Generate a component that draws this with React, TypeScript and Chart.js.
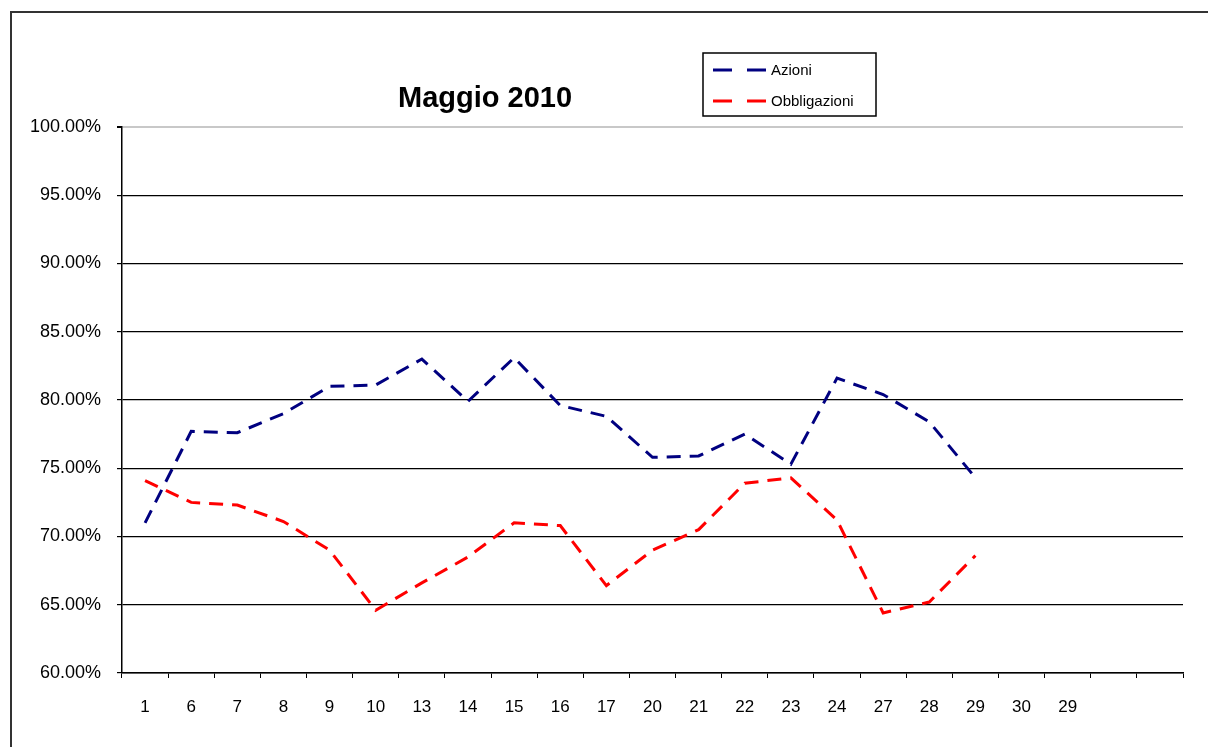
import React, { useEffect, useRef } from "react";
import { Chart, registerables } from "chart.js";

Chart.register(...registerables);

const categories = ["1", "6", "7", "8", "9", "10", "13", "14", "15", "16", "17", "20", "21", "22", "23", "24", "27", "28", "29", "30", "29", "", ""];
const azioni = [71.0, 77.7, 77.6, 79.0, 81.0, 81.1, 83.0, 79.9, 83.1, 79.6, 78.8, 75.8, 75.9, 77.5, 75.3, 81.6, 80.4, 78.4, 74.3, null, null, null, null];
const obbligazioni = [74.1, 72.5, 72.3, 71.1, 69.0, 64.6, 66.6, 68.5, 71.0, 70.8, 66.4, 69.0, 70.5, 73.9, 74.3, 71.2, 64.4, 65.2, 68.6, null, null, null, null];
const seriesNames = ["Azioni", "Obbligazioni"];
const seriesColors = ["#000080", "#ff0000"];
const titleText = "Maggio 2010";

const decorPlugin = {
  id: "decor",
  beforeDraw(chart: any) {
    const ctx = chart.ctx;
    ctx.save();
    ctx.fillStyle = "#ffffff";
    ctx.fillRect(0, 0, chart.width, chart.height);
    ctx.restore();
  },
  afterDraw(chart: any) {
    const ctx = chart.ctx;
    ctx.save();
    // outer frame
    ctx.strokeStyle = "#333333";
    ctx.lineWidth = 2;
    ctx.strokeRect(11, 12, chart.width + 20, chart.height + 20);
    // title
    ctx.fillStyle = "#000";
    ctx.font = "bold 29px 'Liberation Sans', Arial, sans-serif";
    ctx.textAlign = "center";
    ctx.textBaseline = "alphabetic";
    ctx.fillText(titleText, 485, 107);
    // legend box
    ctx.strokeStyle = "#000";
    ctx.lineWidth = 1.5;
    ctx.strokeRect(703, 53, 173, 63);
    ctx.font = "15px 'Liberation Sans', Arial, sans-serif";
    ctx.textAlign = "left";
    ctx.textBaseline = "middle";
    const ys = [70, 101];
    seriesNames.forEach((name, i) => {
      ctx.strokeStyle = seriesColors[i];
      ctx.lineWidth = 3;
      ctx.setLineDash([19, 15]);
      ctx.beginPath();
      ctx.moveTo(713, ys[i]);
      ctx.lineTo(767, ys[i]);
      ctx.stroke();
      ctx.setLineDash([]);
      ctx.fillStyle = "#000";
      ctx.fillText(name, 771, ys[i] + 1);
    });
    ctx.restore();
  },
};

export default function App() {
  const ref = useRef<HTMLCanvasElement>(null);
  useEffect(() => {
    if (!ref.current) return;
    const chart = new Chart(ref.current, {
      type: "line",
      data: {
        labels: categories,
        datasets: [
          {
            label: seriesNames[0],
            data: azioni,
            borderColor: seriesColors[0],
            backgroundColor: seriesColors[0],
            borderWidth: 3,
            borderDash: [14, 9],
            pointRadius: 0,
            tension: 0,
            fill: false,
          },
          {
            label: seriesNames[1],
            data: obbligazioni,
            borderColor: seriesColors[1],
            backgroundColor: seriesColors[1],
            borderWidth: 3,
            borderDash: [14, 9],
            pointRadius: 0,
            tension: 0,
            fill: false,
          },
        ],
      },
      options: {
        responsive: false,
        animation: false,
        layout: { padding: { top: 127, right: 25, left: 0, bottom: 0 } },
        plugins: {
          legend: { display: false },
          title: { display: false },
          tooltip: { enabled: false },
        },
        scales: {
          x: {
            type: "category",
            offset: true,
            grid: {
              offset: true,
              drawOnChartArea: false,
              drawTicks: true,
              tickLength: 5,
              color: "#000",
              tickColor: "#000",
            },
            border: { display: true, color: "#000", width: 1.5 },
            ticks: {
              autoSkip: false,
              maxRotation: 0,
              padding: 19,
              color: "#000",
              font: { family: "'Liberation Sans', Arial, sans-serif", size: 17 },
            },
            afterFit(scale: any) {
              scale.height = 74;
            },
          },
          y: {
            min: 60,
            max: 100,
            ticks: {
              stepSize: 5,
              padding: 16,
              color: "#000",
              font: { family: "'Liberation Sans', Arial, sans-serif", size: 18 },
              callback: (v: any) => Number(v).toFixed(2) + "%",
            },
            grid: {
              tickLength: 5,
              lineWidth: (c: any) => (c.tick && c.tick.value === 100 ? 2 : 1.2),
              color: (c: any) => (c.tick && c.tick.value === 100 ? "#c8c8c8" : "#000"),
              tickColor: "#000",
            },
            border: { display: true, color: "#000", width: 1.5 },
            afterFit(scale: any) {
              scale.width = 122;
            },
          },
        },
      },
      plugins: [decorPlugin],
    });
    return () => chart.destroy();
  }, []);
  return (
    <div style={{ position: "fixed", left: 0, top: 0, width: 1208, height: 747 }}>
      <canvas ref={ref} width={1208} height={747} style={{ width: 1208, height: 747, display: "block" }} />
    </div>
  );
}
